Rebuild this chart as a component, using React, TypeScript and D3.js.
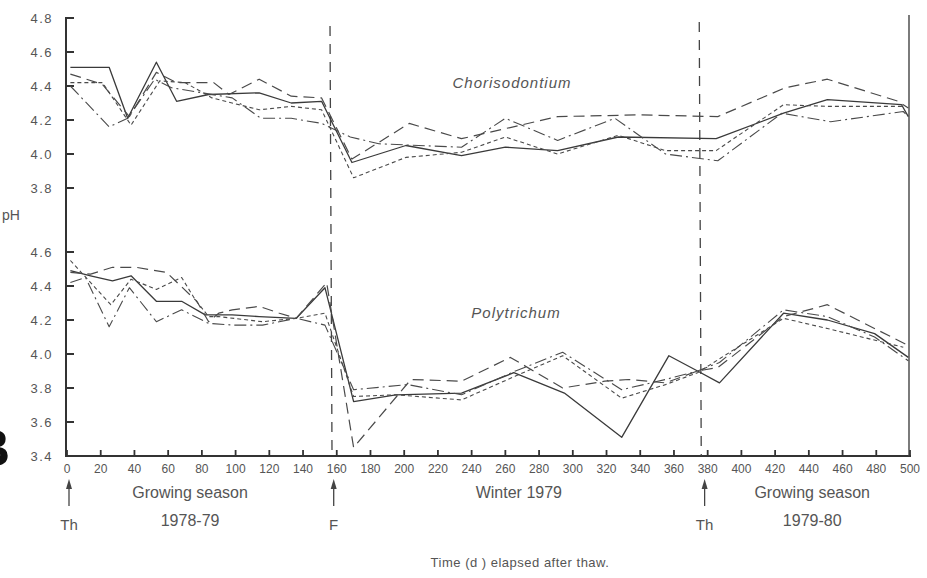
import * as d3 from 'd3';
import React, { useRef, useEffect } from 'react';

// [day, pH] pairs
const chorisSolid = [[2,4.51],[25,4.51],[36,4.21],[53,4.54],[65,4.31],[84,4.35],[114,4.36],[133,4.30],[151,4.31],[169,3.95],[201,4.05],[234,3.99],[260,4.04],[291,4.02],[327,4.10],[385,4.09],[425,4.24],[451,4.32],[495,4.29],[499,4.22]];
const chorisLong = [[2,4.47],[21,4.41],[37,4.22],[53,4.48],[65,4.42],[87,4.42],[96,4.35],[114,4.44],[133,4.34],[151,4.33],[169,3.97],[203,4.18],[234,4.09],[291,4.22],[339,4.23],[386,4.22],[426,4.39],[451,4.44],[493,4.31],[499,4.27]];
const chorisShort = [[2,4.42],[21,4.42],[38,4.17],[55,4.43],[70,4.42],[86,4.33],[114,4.26],[133,4.28],[151,4.26],[170,3.86],[201,3.98],[234,4.01],[260,4.10],[291,4.00],[327,4.11],[355,4.02],[385,4.02],[425,4.29],[451,4.28],[496,4.28]];
const chorisDashDot = [[2,4.40],[25,4.16],[36,4.21],[52,4.44],[62,4.39],[98,4.33],[115,4.21],[133,4.21],[151,4.18],[168,4.10],[185,4.06],[234,4.04],[260,4.21],[291,4.08],[325,4.21],[355,4.00],[386,3.96],[424,4.24],[453,4.19],[496,4.25],[499,4.22]];

const polySolid = [[2,4.49],[14,4.46],[27,4.43],[38,4.46],[53,4.31],[68,4.31],[82,4.23],[98,4.23],[114,4.22],[136,4.21],[153,4.39],[170,3.72],[195,3.76],[234,3.77],[265,3.89],[295,3.77],[329,3.51],[357,3.99],[374,3.90],[387,3.83],[425,4.24],[451,4.20],[479,4.12],[499,3.98]];
const polyLong = [[2,4.48],[14,4.47],[27,4.51],[41,4.51],[59,4.48],[77,4.31],[84,4.19],[90,4.24],[98,4.26],[114,4.28],[126,4.24],[136,4.21],[154,4.42],[170,3.45],[204,3.85],[234,3.84],[263,3.98],[294,3.80],[319,3.84],[333,3.85],[355,3.83],[374,3.90],[386,3.92],[425,4.22],[451,4.29],[469,4.20],[499,4.05]];
const polyShort = [[2,4.55],[26,4.29],[38,4.44],[53,4.38],[68,4.45],[76,4.32],[84,4.22],[90,4.22],[116,4.19],[136,4.21],[153,4.24],[170,3.75],[195,3.76],[234,3.73],[266,3.87],[294,3.99],[329,3.74],[355,3.82],[374,3.89],[425,4.21],[451,4.15],[496,4.04]];
const polyDashDot = [[2,4.42],[11,4.45],[25,4.16],[37,4.39],[53,4.19],[68,4.26],[84,4.18],[99,4.17],[116,4.17],[136,4.21],[153,4.17],[170,3.79],[202,3.82],[234,3.76],[266,3.90],[294,4.01],[329,3.79],[355,3.85],[374,3.90],[387,3.95],[425,4.26],[451,4.22],[479,4.10],[499,3.96]];

const topTicks = [4.8, 4.6, 4.4, 4.2, 4.0, 3.8];
const bottomTicks = [4.6, 4.4, 4.2, 4.0, 3.8, 3.6, 3.4];
const dayTicks = d3.range(0, 501, 20);
const eventLines = [156, 375];
const arrows = [{ day: 0, label: 'Th' }, { day: 157, label: 'F' }, { day: 377, label: 'Th' }];
const seasons = [
  { day: 73, lines: ['Growing season', '1978-79'] },
  { day: 268, lines: ['Winter 1979'] },
  { day: 442, lines: ['Growing season', '1979-80'] },
];

const styles = {
  solid: { dash: null, width: 1.3, color: '#3a3a3a' },
  long: { dash: '11,6', width: 1.2, color: '#4a4a4a' },
  short: { dash: '4,3', width: 1.1, color: '#4a4a4a' },
  dashdot: { dash: '12,4,2,4', width: 1.1, color: '#4a4a4a' },
};

const FONT = '"Liberation Sans", Arial, sans-serif';

const App = () => {
  const ref = useRef(null);

  useEffect(() => {
    const svg = d3.select(ref.current);
    svg.selectAll('*').remove();

    const x = d3.scaleLinear().domain([0, 500]).range([67, 910]);
    const yTop = d3.scaleLinear().domain([3.8, 4.8]).range([188, 18]);
    const yBot = d3.scaleLinear().domain([3.4, 4.6]).range([456, 252]);

    const g = svg.append('g');

    // frame: left axis, bottom axis, right border
    g.append('line').attr('x1', x(0) - 1).attr('x2', x(0) - 1).attr('y1', 17).attr('y2', yBot(3.4))
      .attr('stroke', '#333').attr('stroke-width', 2);
    g.append('line').attr('x1', x(0) - 2).attr('x2', x(500) + 1).attr('y1', yBot(3.4)).attr('y2', yBot(3.4))
      .attr('stroke', '#333').attr('stroke-width', 2);
    g.append('line').attr('x1', x(500) - 1).attr('x2', x(500) - 1).attr('y1', 15).attr('y2', yBot(3.4))
      .attr('stroke', '#444').attr('stroke-width', 1.4);

    // y ticks
    const yTick = (scale, v) => {
      g.append('line').attr('x1', x(0) - 1).attr('x2', x(0) + 7).attr('y1', scale(v)).attr('y2', scale(v))
        .attr('stroke', '#333').attr('stroke-width', 2);
      g.append('text').attr('x', 53).attr('y', scale(v)).attr('dy', '0.35em')
        .attr('text-anchor', 'end').attr('font-family', FONT).attr('font-size', 13)
        .attr('letter-spacing', 1.5).attr('fill', '#555').text(v.toFixed(1));
    };
    topTicks.forEach(v => yTick(yTop, v));
    bottomTicks.forEach(v => yTick(yBot, v));

    g.append('text').attr('x', 2).attr('y', 220).attr('font-family', FONT).attr('font-size', 14)
      .attr('fill', '#555').text('pH');

    // x ticks
    dayTicks.forEach(d => {
      g.append('line').attr('x1', x(d)).attr('x2', x(d)).attr('y1', yBot(3.4)).attr('y2', yBot(3.4) - 6)
        .attr('stroke', '#333').attr('stroke-width', 1.8);
      g.append('text').attr('x', x(d)).attr('y', 473).attr('text-anchor', 'middle')
        .attr('font-family', FONT).attr('font-size', 12).attr('fill', '#555').text(d);
    });

    // event lines (freeze / thaw)
    eventLines.forEach((d, i) => {
      g.append('line').attr('x1', x(d)).attr('x2', x(d) + 2).attr('y1', i === 0 ? 26 : 22).attr('y2', yBot(3.4))
        .attr('stroke', '#444').attr('stroke-width', 1.3).attr('stroke-dasharray', '10,8');
    });

    const line = (scale) => d3.line().x(d => x(d[0])).y(d => scale(d[1]));
    const draw = (data, scale, s) => {
      const p = g.append('path').attr('d', line(scale)(data)).attr('fill', 'none')
        .attr('stroke', s.color).attr('stroke-width', s.width).attr('stroke-linejoin', 'round');
      if (s.dash) p.attr('stroke-dasharray', s.dash);
    };
    draw(chorisSolid, yTop, styles.solid);
    draw(chorisLong, yTop, styles.long);
    draw(chorisShort, yTop, styles.short);
    draw(chorisDashDot, yTop, styles.dashdot);
    draw(polySolid, yBot, styles.solid);
    draw(polyLong, yBot, styles.long);
    draw(polyShort, yBot, styles.short);
    draw(polyDashDot, yBot, styles.dashdot);

    g.append('text').attr('x', 512).attr('y', 88).attr('text-anchor', 'middle').attr('font-family', FONT)
      .attr('font-style', 'italic').attr('font-size', 15).attr('letter-spacing', 1).attr('fill', '#555')
      .text('Chorisodontium');
    g.append('text').attr('x', 516).attr('y', 318).attr('text-anchor', 'middle').attr('font-family', FONT)
      .attr('font-style', 'italic').attr('font-size', 15).attr('letter-spacing', 1).attr('fill', '#555')
      .text('Polytrichum');

    // arrows and labels under the axis
    arrows.forEach(a => {
      const ax = x(a.day) + 2;
      g.append('line').attr('x1', ax).attr('x2', ax).attr('y1', 486).attr('y2', 506)
        .attr('stroke', '#444').attr('stroke-width', 1.3);
      g.append('path').attr('d', `M${ax - 3},489 L${ax},479 L${ax + 3},489 Z`).attr('fill', '#444');
      g.append('text').attr('x', ax).attr('y', 530).attr('text-anchor', 'middle').attr('font-family', FONT)
        .attr('font-size', 15).attr('fill', '#555').text(a.label);
    });

    seasons.forEach(s => {
      s.lines.forEach((t, i) => {
        g.append('text').attr('x', x(s.day)).attr('y', 498 + i * 28).attr('text-anchor', 'middle')
          .attr('font-family', FONT).attr('font-size', 16).attr('fill', '#555').text(t);
      });
    });

    g.append('text').attr('x', 520).attr('y', 567).attr('text-anchor', 'middle').attr('font-family', FONT)
      .attr('font-size', 13).attr('letter-spacing', 0.5).attr('fill', '#555').text('Time (d ) elapsed after thaw.');

    // clipped panel letter at the left edge, as in the scan
    g.append('text').attr('x', 10).attr('y', 466).attr('text-anchor', 'end').attr('font-family', FONT)
      .attr('font-weight', 'bold').attr('font-size', 52).attr('fill', '#111').text('B');
  }, []);

  return (
    <svg ref={ref} width={927} height={578}
      style={{ position: 'absolute', left: 0, top: 0, background: '#fff' }} />
  );
};

export default App;
